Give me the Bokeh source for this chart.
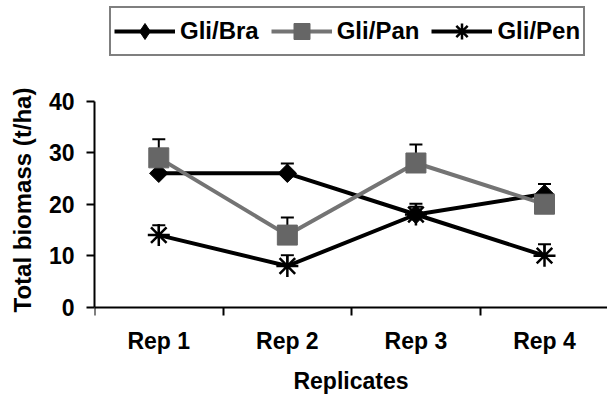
from bokeh.plotting import figure
from bokeh.models import (FixedTicker, Range1d, Legend, LegendItem, Whisker,
                          TeeHead, ColumnDataSource)
from bokeh.embed import file_html
from bokeh.resources import INLINE

categories = ["Rep 1", "Rep 2", "Rep 3", "Rep 4"]
series_names = ["Gli/Bra", "Gli/Pan", "Gli/Pen"]
gli_bra = [26.0, 26.0, 18.0, 22.0]
gli_bra_upper = [27.5, 27.9, 19.5, 23.9]
gli_pan = [29.0, 14.0, 28.0, 20.0]
gli_pan_upper = [32.6, 17.4, 31.6, 21.0]
gli_pen = [14.0, 8.0, 18.0, 10.0]
gli_pen_upper = [15.9, 10.1, 20.1, 12.2]
y_ticks = [0, 10, 20, 30, 40]

FONT = "Liberation Sans"
xs = [i + 0.5 for i in range(len(categories))]

p = figure(width=607, height=399, output_backend="svg", toolbar_location=None,
           x_range=Range1d(0, 3.99), y_range=Range1d(-17.92, 59.55),
           min_border_left=94, min_border_right=0, min_border_top=0,
           min_border_bottom=0, outline_line_color=None)
p.xgrid.grid_line_color = None
p.ygrid.grid_line_color = None

# x axis (drawn at y = 0)
xa = p.xaxis[0]
xa.fixed_location = 0
xa.ticker = FixedTicker(ticks=xs, minor_ticks=[0, 1, 2, 3, 4])
xa.major_label_overrides = {x: c for x, c in zip(xs, categories)}
xa.major_tick_out = 0
xa.major_tick_in = 0
xa.minor_tick_out = 8
xa.minor_tick_in = 0
xa.minor_tick_line_width = 2
xa.minor_tick_line_color = "black"
xa.axis_line_width = 2
xa.axis_line_color = "black"
xa.major_label_text_font = FONT
xa.major_label_text_font_style = "bold"
xa.major_label_text_font_size = "23px"
xa.major_label_text_color = "black"
xa.major_label_standoff = 13
xa.axis_label = "Replicates"
xa.axis_label_text_font = FONT
xa.axis_label_text_font_style = "bold"
xa.axis_label_text_font_size = "23px"
xa.axis_label_text_color = "black"
xa.axis_label_standoff = 10

# y axis
ya = p.yaxis[0]
ya.ticker = FixedTicker(ticks=y_ticks)
ya.bounds = (0, 40)
ya.major_tick_out = 8
ya.major_tick_in = 0
ya.major_tick_line_width = 2
ya.major_tick_line_color = "black"
ya.minor_tick_line_color = None
ya.axis_line_width = 2
ya.axis_line_color = "black"
ya.major_label_text_font = FONT
ya.major_label_text_font_style = "bold"
ya.major_label_text_font_size = "23px"
ya.major_label_text_color = "black"
ya.major_label_standoff = 12
ya.axis_label = "Total biomass (t/ha)"
ya.axis_label_text_font = FONT
ya.axis_label_text_font_style = "bold"
ya.axis_label_text_font_size = "24px"
ya.axis_label_text_color = "black"
ya.axis_label_standoff = 10

GRAY_LINE = "#747474"
GRAY_MARK = "#666666"

def add_whisker(vals, upper):
    src = ColumnDataSource(dict(x=xs, lo=vals, hi=upper))
    w = Whisker(source=src, base="x", lower="lo", upper="hi",
                dimension="height", lower_head=None,
                upper_head=TeeHead(size=13, line_width=2, line_color="black"),
                line_width=2, line_color="black")
    p.add_layout(w)

# Gli/Bra
l1 = p.line(xs, gli_bra, line_color="black", line_width=4)
add_whisker(gli_bra, gli_bra_upper)
p.scatter(xs, gli_bra, marker="square", angle=0.785398, size=13,
          fill_color="black", line_color="black")
m1 = p.scatter(xs, gli_bra, marker="diamond", fill_color="black",
               line_color="black", visible=False)
# Gli/Pan
l2 = p.line(xs, gli_pan, line_color=GRAY_LINE, line_width=4)
add_whisker(gli_pan, gli_pan_upper)
m2 = p.scatter(xs, gli_pan, marker="square", size=20,
               fill_color=GRAY_MARK, line_color=GRAY_MARK)
# Gli/Pen
l3 = p.line(xs, gli_pen, line_color="black", line_width=4)
add_whisker(gli_pen, gli_pen_upper)
m3 = p.scatter(xs, gli_pen, marker="asterisk", size=22,
               line_color="black", line_width=2.5)

items = [LegendItem(label=series_names[0], renderers=[l1, m1]),
         LegendItem(label=series_names[1], renderers=[l2, m2]),
         LegendItem(label=series_names[2], renderers=[l3, m3])]

legend = Legend(items=items, orientation="horizontal", location=(15, 343),
                margin=0, padding=3, spacing=12, glyph_width=61,
                glyph_height=40, label_standoff=5, label_height=40,
                label_text_font=FONT, label_text_font_style="bold",
                label_text_font_size="24px", label_text_color="black",
                border_line_color="black", border_line_width=2,
                background_fill_color="white", background_fill_alpha=1.0)
p.add_layout(legend)

open("out.html", "w").write(file_html(p, INLINE))
